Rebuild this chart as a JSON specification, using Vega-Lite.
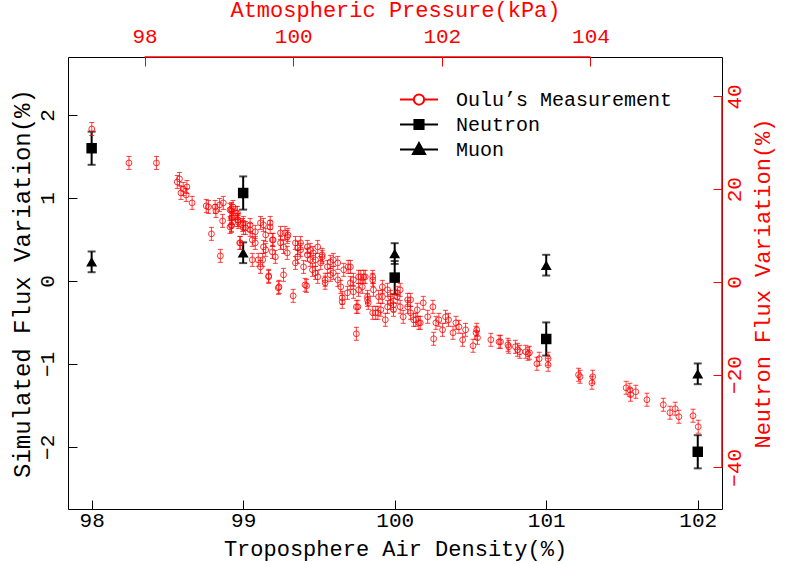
{
"$schema": "https://vega.github.io/schema/vega-lite/v6.json",
"width": 654, "height": 452,
"autosize": "none",
"padding": {"left": 68, "top": 57, "right": 67, "bottom": 55},
"config": {
  "view": {"stroke": "black", "strokeWidth": 1},
  "font": "Liberation Mono",
  "axis": {"labelFont": "Liberation Mono", "titleFont": "Liberation Mono", "grid": false, "domain": false, "labelFontWeight": "normal", "titleFontWeight": "normal", "labelFontSize": 21, "titleFontSize": 22, "tickSize": -9, "tickWidth": 1, "labelFlush": false, "format": "d"},
  "legend": {"symbolOpacity": 1, "symbolFillColor": "white"}
},
"datasets": {
  "sim": [
    {"d":98,"s":1.60,"e":0.2,"series":"Neutron"},
    {"d":99,"s":1.06,"e":0.2,"series":"Neutron"},
    {"d":100,"s":0.04,"e":0.2,"series":"Neutron"},
    {"d":101,"s":-0.70,"e":0.2,"series":"Neutron"},
    {"d":102,"s":-2.06,"e":0.2,"series":"Neutron"},
    {"d":98,"s":0.23,"e":0.125,"series":"Muon"},
    {"d":99,"s":0.34,"e":0.125,"series":"Muon"},
    {"d":100,"s":0.33,"e":0.125,"series":"Muon"},
    {"d":101,"s":0.19,"e":0.125,"series":"Muon"},
    {"d":102,"s":-1.12,"e":0.125,"series":"Muon"}
  ],
  "keys": [
    {"series":"Oulu’s Measurement","d":100,"s":0},
    {"series":"Neutron","d":100,"s":0},
    {"series":"Muon","d":100,"s":0}
  ]
},
"resolve": {"scale": {"x": "independent", "y": "independent"}},
"layer": [
{
  "layer": [
    {
      "data": {"name": "sim"},
      "mark": {"type": "errorbar", "color": "black", "thickness": 2, "ticks": {"size": 8, "thickness": 2, "color": "black"}},
      "encoding": {
        "x": {"field": "d", "type": "quantitative", "scale": {"domain": [97.844, 102.16], "nice": false, "zero": false},
              "axis": {"orient": "bottom", "title": "Troposphere Air Density(%)", "values": [98,99,100,101,102], "tickColor": "black", "labelColor": "black", "titleColor": "black", "labelPadding": 9, "titlePadding": 8}},
        "y": {"field": "s", "type": "quantitative", "scale": {"domain": [-2.75, 2.70], "nice": false, "zero": false},
              "axis": {"orient": "left", "title": "Simulated Flux Variation(%)", "values": [-2,-1,0,1,2], "tickColor": "black", "labelColor": "black", "titleColor": "black", "labelAngle": -90, "labelAlign": "center", "labelBaseline": "alphabetic", "labelPadding": 24, "titlePadding": 2, "titleFontSize": 24}},
        "yError": {"field": "e"}
      }
    },
    {
      "data": {"name": "sim"},
      "transform": [{"filter": "datum.series == 'Neutron'"}],
      "mark": {"type": "point", "shape": "square", "filled": true, "size": 110, "opacity": 1, "color": "black"},
      "encoding": {"x": {"field": "d", "type": "quantitative"}, "y": {"field": "s", "type": "quantitative"}}
    },
    {
      "data": {"name": "sim"},
      "transform": [{"filter": "datum.series == 'Muon'"}],
      "mark": {"type": "point", "shape": "triangle-up", "filled": true, "size": 120, "opacity": 1, "color": "black"},
      "encoding": {"x": {"field": "d", "type": "quantitative"}, "y": {"field": "s", "type": "quantitative"}}
    },
    {
      "data": {"name": "keys"},
      "mark": {"type": "point", "filled": true, "opacity": 0, "size": 625, "strokeWidth": 2},
      "encoding": {
        "x": {"field": "d", "type": "quantitative"},
        "y": {"field": "s", "type": "quantitative"},
        "shape": {"field": "series", "type": "nominal", "scale": {"domain": ["Oulu’s Measurement", "Neutron", "Muon"], "range": ["M-1.52,0H-0.41M0.41,0H1.52M-0.41,0A0.41,0.41 0 1,1 0.41,0A0.41,0.41 0 1,1 -0.41,0", "M-1.52,0H1.52M-0.365,-0.365H0.365V0.365H-0.365Z", "M-1.52,0H1.52M0,-0.517L0.486,0.365L-0.486,0.365Z"]},
          "legend": {"title": null, "orient": "none", "legendX": 337.5, "legendY": 29, "padding": 0, "labelFont": "Liberation Mono", "labelFontSize": 20, "labelColor": "black", "labelOffset": 23.5, "rowPadding": 1, "symbolSize": 625, "symbolStrokeWidth": 2, "labelLimit": 400}},
        "fill": {"field": "series", "type": "nominal", "scale": {"domain": ["Oulu’s Measurement", "Neutron", "Muon"], "range": ["white", "black", "black"]},
          "legend": {"title": null, "orient": "none", "legendX": 337.5, "legendY": 29, "padding": 0, "labelFont": "Liberation Mono", "labelFontSize": 20, "labelColor": "black", "labelOffset": 23.5, "rowPadding": 1, "symbolSize": 625, "symbolStrokeWidth": 2, "labelLimit": 400}},
        "stroke": {"field": "series", "type": "nominal", "scale": {"domain": ["Oulu’s Measurement", "Neutron", "Muon"], "range": ["red", "black", "black"]},
          "legend": {"title": null, "orient": "none", "legendX": 337.5, "legendY": 29, "padding": 0, "labelFont": "Liberation Mono", "labelFontSize": 20, "labelColor": "black", "labelOffset": 23.5, "rowPadding": 1, "symbolSize": 625, "symbolStrokeWidth": 2, "labelLimit": 400}}
      }
    }
  ]
},
{
  "layer": [
    {
      "data": {"values": [
{"p":97.29,"n":32.97,"e":1.4},{"p":97.79,"n":25.65,"e":1.4},{"p":98.16,"n":25.65,"e":1.4},{"p":98.44,"n":21.55,"e":1.4},{"p":98.47,"n":22.20,"e":1.4},
{"p":98.49,"n":19.18,"e":1.4},{"p":98.52,"n":20.04,"e":1.4},{"p":98.57,"n":20.47,"e":1.4},{"p":98.56,"n":18.75,"e":1.4},{"p":98.64,"n":17.03,"e":1.4},
{"p":98.83,"n":16.38,"e":1.4},{"p":98.86,"n":16.16,"e":1.4},{"p":98.90,"n":10.35,"e":1.4},{"p":98.95,"n":16.16,"e":1.4},{"p":98.96,"n":15.30,"e":1.4},
{"p":99.01,"n":16.59,"e":1.4},{"p":99.06,"n":17.03,"e":1.4},{"p":99.02,"n":5.60,"e":1.4},{"p":99.05,"n":13.15,"e":1.4},{"p":99.17,"n":15.73,"e":1.4},
{"p":99.19,"n":16.16,"e":1.4},{"p":99.17,"n":13.79,"e":1.4},{"p":99.17,"n":12.07,"e":1.4},{"p":99.25,"n":14.87,"e":1.4},{"p":99.26,"n":13.36,"e":1.4},
{"p":99.32,"n":12.28,"e":1.4},{"p":99.29,"n":8.40,"e":1.4},{"p":99.33,"n":11.64,"e":1.4},{"p":99.45,"n":4.74,"e":1.4},{"p":99.67,"n":1.29,"e":1.4},
{"p":99.17,"n":15.30,"e":1.4},{"p":99.18,"n":13.79,"e":1.4},{"p":99.15,"n":11.85,"e":1.4},{"p":99.23,"n":14.87,"e":1.4},{"p":99.25,"n":13.36,"e":1.4},
{"p":99.33,"n":12.71,"e":1.4},{"p":99.42,"n":11.21,"e":1.4},{"p":99.49,"n":8.40,"e":1.4},{"p":99.56,"n":12.71,"e":1.4},{"p":99.59,"n":4.74,"e":1.4},
{"p":99.60,"n":7.54,"e":1.4},{"p":99.63,"n":10.13,"e":1.4},{"p":99.67,"n":1.08,"e":1.4},{"p":99.69,"n":11.85,"e":1.4},{"p":99.72,"n":6.46,"e":1.4},
{"p":99.73,"n":9.05,"e":1.4},{"p":99.81,"n":-1.08,"e":1.4},{"p":99.83,"n":10.56,"e":1.4},{"p":99.87,"n":7.54,"e":1.4},{"p":99.92,"n":9.70,"e":1.4},
{"p":99.92,"n":6.25,"e":1.4},{"p":100.00,"n":-3.02,"e":1.4},{"p":100.03,"n":8.40,"e":1.4},{"p":100.06,"n":5.39,"e":1.4},{"p":100.10,"n":6.90,"e":1.4},
{"p":100.14,"n":3.23,"e":1.4},{"p":100.18,"n":-0.86,"e":1.4},{"p":100.19,"n":7.54,"e":1.4},{"p":100.23,"n":4.74,"e":1.4},{"p":100.27,"n":6.25,"e":1.4},
{"p":100.30,"n":1.94,"e":1.4},{"p":100.33,"n":7.54,"e":1.4},{"p":100.37,"n":4.09,"e":1.4},{"p":100.39,"n":5.39,"e":1.4},{"p":100.43,"n":0.43,"e":1.4},
{"p":100.46,"n":3.23,"e":1.4},{"p":100.50,"n":1.51,"e":1.4},{"p":100.54,"n":4.74,"e":1.4},{"p":100.60,"n":0.43,"e":1.4},{"p":100.64,"n":-1.08,"e":1.4},
{"p":100.66,"n":-4.31,"e":1.4},{"p":100.68,"n":2.59,"e":1.4},{"p":100.73,"n":-2.37,"e":1.4},{"p":100.77,"n":3.23,"e":1.4},{"p":100.81,"n":0.43,"e":1.4},
{"p":100.85,"n":-5.39,"e":1.4},{"p":100.85,"n":-11.21,"e":1.4},{"p":100.88,"n":-1.72,"e":1.4},{"p":100.95,"n":1.08,"e":1.4},{"p":101.00,"n":-3.23,"e":1.4},
{"p":101.01,"n":-4.53,"e":1.4},{"p":101.07,"n":0.43,"e":1.4},{"p":101.08,"n":-1.72,"e":1.4},{"p":101.14,"n":-6.68,"e":1.4},{"p":101.18,"n":-6.03,"e":1.4},
{"p":101.20,"n":-3.23,"e":1.4},{"p":101.24,"n":-8.19,"e":1.4},{"p":101.27,"n":-1.72,"e":1.4},{"p":101.31,"n":-4.53,"e":1.4},{"p":101.35,"n":-6.03,"e":1.4},
{"p":101.40,"n":-3.23,"e":1.4},{"p":101.44,"n":-5.39,"e":1.4},{"p":101.48,"n":-7.54,"e":1.4},{"p":101.54,"n":-3.88,"e":1.4},{"p":101.58,"n":-6.68,"e":1.4},
{"p":101.65,"n":-8.19,"e":1.4},{"p":101.69,"n":-8.84,"e":1.4},
{"p":99.15,"n":15.52,"e":1.4},{"p":99.17,"n":12.28,"e":1.4},{"p":99.26,"n":12.93,"e":1.4},{"p":99.28,"n":8.40,"e":1.4},{"p":99.36,"n":11.64,"e":1.4},
{"p":99.42,"n":12.28,"e":1.4},{"p":99.45,"n":9.05,"e":1.4},{"p":99.49,"n":10.78,"e":1.4},{"p":99.53,"n":4.74,"e":1.4},{"p":99.56,"n":3.23,"e":1.4},
{"p":99.60,"n":12.28,"e":1.4},{"p":99.63,"n":6.90,"e":1.4},{"p":99.69,"n":12.71,"e":1.4},{"p":99.72,"n":9.05,"e":1.4},{"p":99.76,"n":5.39,"e":1.4},
{"p":99.80,"n":-1.29,"e":1.4},{"p":99.83,"n":8.40,"e":1.4},{"p":99.87,"n":1.51,"e":1.4},{"p":99.89,"n":10.56,"e":1.4},{"p":99.93,"n":10.13,"e":1.4},
{"p":100.03,"n":4.09,"e":1.4},{"p":100.06,"n":7.33,"e":1.4},{"p":100.10,"n":8.40,"e":1.4},{"p":100.16,"n":-0.65,"e":1.4},{"p":100.19,"n":5.82,"e":1.4},
{"p":100.23,"n":6.90,"e":1.4},{"p":100.26,"n":2.59,"e":1.4},{"p":100.30,"n":4.74,"e":1.4},{"p":100.33,"n":1.08,"e":1.4},{"p":100.39,"n":5.82,"e":1.4},
{"p":100.43,"n":-0.22,"e":1.4},{"p":100.50,"n":4.31,"e":1.4},{"p":100.54,"n":1.94,"e":1.4},{"p":100.60,"n":4.09,"e":1.4},{"p":100.66,"n":-3.45,"e":1.4},
{"p":100.74,"n":3.23,"e":1.4},{"p":100.77,"n":-0.22,"e":1.4},{"p":100.81,"n":-2.15,"e":1.4},{"p":100.87,"n":-5.39,"e":1.4},{"p":100.88,"n":1.08,"e":1.4},
{"p":100.93,"n":-1.08,"e":1.4},{"p":100.97,"n":1.08,"e":1.4},{"p":101.07,"n":-6.68,"e":1.4},
{"p":100.91,"n":1.08,"e":1.4},{"p":101.00,"n":-3.88,"e":1.4},{"p":101.07,"n":1.08,"e":1.4},{"p":101.11,"n":-6.68,"e":1.4},{"p":101.15,"n":-3.23,"e":1.4},
{"p":101.20,"n":-1.08,"e":1.4},{"p":101.27,"n":-5.39,"e":1.4},{"p":101.31,"n":-3.23,"e":1.4},{"p":101.35,"n":-4.96,"e":1.4},{"p":101.40,"n":-2.37,"e":1.4},
{"p":101.44,"n":-1.72,"e":1.4},{"p":101.54,"n":-5.39,"e":1.4},{"p":101.58,"n":-3.88,"e":1.4},{"p":101.62,"n":-8.19,"e":1.4},{"p":101.67,"n":-6.03,"e":1.4},
{"p":101.71,"n":-8.84,"e":1.4},{"p":101.75,"n":-4.53,"e":1.4},{"p":101.81,"n":-7.54,"e":1.4},{"p":101.88,"n":-5.39,"e":1.4},{"p":101.89,"n":-12.28,"e":1.4},
{"p":101.92,"n":-8.84,"e":1.4},{"p":101.96,"n":-8.19,"e":1.4},{"p":102.01,"n":-10.35,"e":1.4},{"p":102.05,"n":-7.54,"e":1.4},{"p":102.09,"n":-8.19,"e":1.4},
{"p":102.15,"n":-10.99,"e":1.4},{"p":102.19,"n":-8.84,"e":1.4},{"p":102.23,"n":-9.70,"e":1.4},{"p":102.28,"n":-12.50,"e":1.4},{"p":102.32,"n":-10.35,"e":1.4},
{"p":102.42,"n":-13.79,"e":1.4},{"p":102.46,"n":-10.99,"e":1.4},{"p":102.48,"n":-12.07,"e":1.4},{"p":102.66,"n":-12.50,"e":1.4},{"p":102.77,"n":-12.93,"e":1.4},
{"p":102.89,"n":-13.58,"e":1.4},{"p":102.47,"n":-10.35,"e":1.4},
{"p":102.79,"n":-12.93,"e":1.4},{"p":102.90,"n":-14.01,"e":1.4},{"p":102.99,"n":-14.01,"e":1.4},{"p":103.02,"n":-14.66,"e":1.4},{"p":103.05,"n":-15.09,"e":1.4},
{"p":103.13,"n":-15.09,"e":1.4},{"p":103.16,"n":-15.52,"e":1.4},{"p":103.18,"n":-15.30,"e":1.4},{"p":103.28,"n":-17.67,"e":1.4},{"p":103.31,"n":-16.59,"e":1.4},
{"p":103.43,"n":-16.59,"e":1.4},{"p":103.43,"n":-17.89,"e":1.4},{"p":103.84,"n":-20.04,"e":1.4},{"p":103.86,"n":-20.47,"e":1.4},{"p":104.02,"n":-21.77,"e":1.4},
{"p":104.03,"n":-20.47,"e":1.4},{"p":104.48,"n":-22.85,"e":1.4},{"p":104.53,"n":-23.28,"e":1.4},{"p":104.54,"n":-24.35,"e":1.4},{"p":104.61,"n":-23.71,"e":1.4},
{"p":104.76,"n":-25.43,"e":1.4},{"p":104.98,"n":-26.51,"e":1.4},{"p":105.07,"n":-28.23,"e":1.4},{"p":105.14,"n":-27.37,"e":1.4},{"p":105.19,"n":-29.10,"e":1.4},
{"p":105.38,"n":-28.88,"e":1.4},{"p":105.45,"n":-31.25,"e":1.4}
      ]},
      "layer": [
        {
          "mark": {"type": "errorbar", "color": "red", "opacity": 0.75, "thickness": 1, "ticks": {"size": 5, "thickness": 1, "color": "red"}},
          "encoding": {
            "x": {"field": "p", "type": "quantitative", "scale": {"domain": [96.97, 105.77], "nice": false, "zero": false},
                  "axis": {"orient": "top", "title": "Atmospheric Pressure(kPa)", "values": [98,100,102,104], "tickColor": "red", "labelColor": "red", "titleColor": "red", "labelPadding": 20, "titlePadding": 4}},
            "y": {"field": "n", "type": "quantitative", "scale": {"domain": [-49.0, 48.5], "nice": false, "zero": false},
                  "axis": {"orient": "right", "title": "Neutron Flux Variation(%)", "values": [-40,-20,0,20,40], "tickColor": "red", "labelColor": "red", "titleColor": "red", "labelAngle": -90, "labelAlign": "center", "labelBaseline": "top", "labelPadding": 10, "titleAngle": -90, "titleBaseline": "top", "titlePadding": 8}},
            "yError": {"field": "e"}
          }
        },
        {
          "mark": {"type": "point", "shape": "circle", "filled": false, "color": "red", "size": 34, "strokeWidth": 1, "opacity": 0.8},
          "encoding": {
            "x": {"field": "p", "type": "quantitative"},
            "y": {"field": "n", "type": "quantitative"}
          }
        }
      ]
    },
    {
      "data": {"values": [{"a": 98, "b": 104, "c": 48.5}]},
      "mark": {"type": "rule", "color": "red", "strokeWidth": 1.5},
      "encoding": {"x": {"field": "a", "type": "quantitative"}, "x2": {"field": "b"}, "y": {"field": "c", "type": "quantitative"}}
    },
    {
      "data": {"values": [{"a": 105.77, "c": -40, "c2": 40}]},
      "mark": {"type": "rule", "color": "red", "strokeWidth": 1.5},
      "encoding": {"x": {"field": "a", "type": "quantitative"}, "y": {"field": "c", "type": "quantitative"}, "y2": {"field": "c2"}}
    }
  ]
}
]
}
